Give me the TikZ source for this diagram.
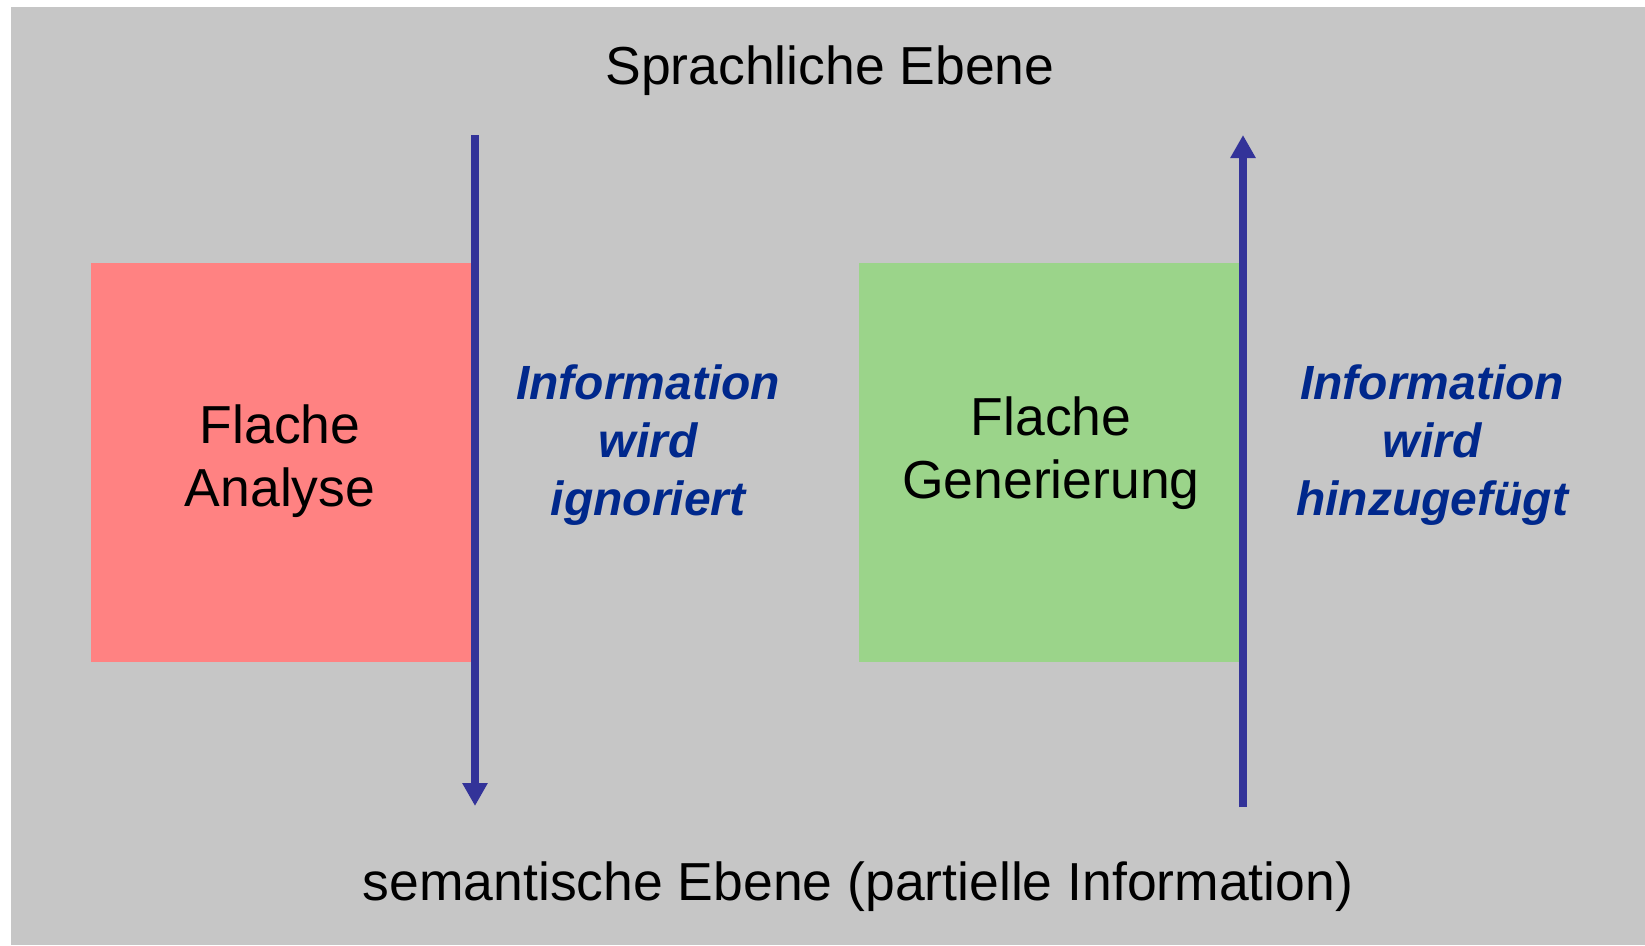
\documentclass[tikz,border=0pt]{standalone}
\usepackage{fontspec}
\setmainfont{Liberation Sans}
\usetikzlibrary{arrows.meta}
\definecolor{bg}{HTML}{C6C6C6}
\definecolor{redbox}{HTML}{FF8282}
\definecolor{greenbox}{HTML}{9BD48A}
\definecolor{arrowblue}{HTML}{333399}
\definecolor{textblue}{RGB}{0,40,140}
\tikzset{
  box/.style={rectangle, inner sep=0pt, minimum width=380pt, minimum height=399pt},
  boxtext/.style={inner sep=0pt, align=center, font=\fontsize{53.5}{63}\selectfont},
  label/.style={inner sep=0pt, anchor=base, font=\fontsize{53.5}{60}\selectfont},
  info/.style={inner sep=0pt, align=center, text=textblue,
    font=\fontsize{48}{58}\selectfont\bfseries\itshape},
  flow/.style={draw=arrowblue, line width=8pt, -{Triangle[length=23pt,width=24pt]}}
}
\begin{document}
\begin{tikzpicture}[x=1pt,y=-1pt]
\useasboundingbox (0,0) rectangle (1645,945);
\fill[bg] (11,7) rectangle (1645,945);
\node[label] (top) at (830,84) {Sprachliche Ebene};
\node[label] (bottom) at (858,900) {semantische Ebene (partielle Information)};
\node[box, fill=redbox] (ana) at (281,462.5) {};
\node[box, fill=greenbox] (gen) at (1049,462.5) {};
\node[boxtext] (anat) at (280,461) {Flache\\Analyse};
\node[boxtext] (gent) at (1051,453) {Flache\\Generierung};
\coordinate (a1) at (475,135);
\coordinate (a2) at (475,806);
\coordinate (b1) at (1243,807);
\coordinate (b2) at (1243,135);
\draw[flow] (a1) -- (a2);
\draw[flow] (b1) -- (b2);
\node[info] (ign) at (648,445) {Information\\wird\\ignoriert};
\node[info] (hin) at (1432,445) {Information\\wird\\hinzugefügt};
\end{tikzpicture}
\end{document}
